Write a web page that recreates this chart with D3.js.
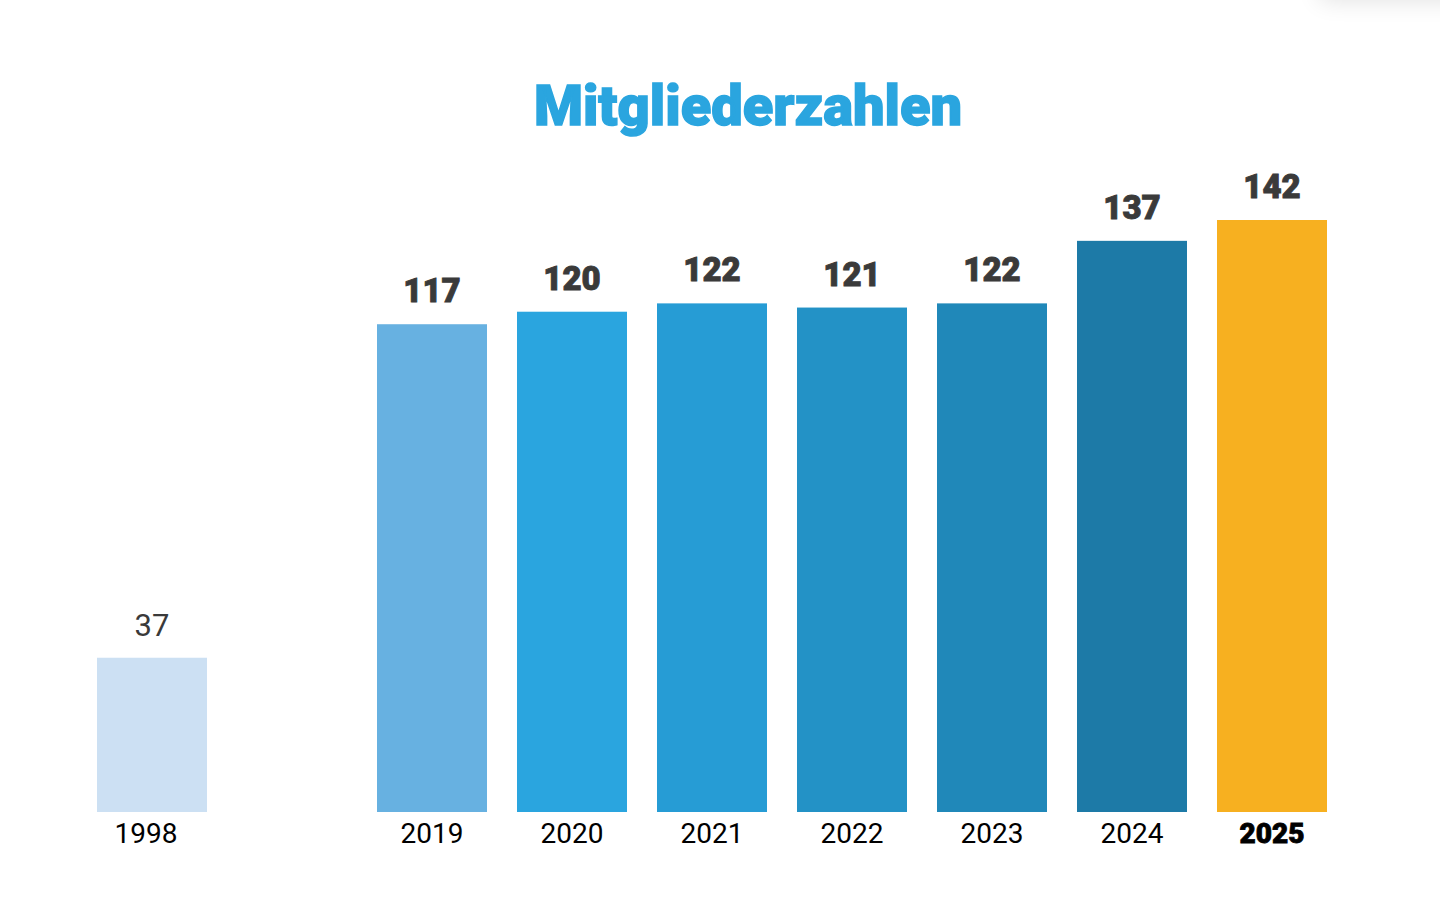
<!DOCTYPE html>
<html lang="de">
<head>
<meta charset="utf-8">
<title>Mitgliederzahlen</title>
<script src="https://d3js.org/d3.v7.min.js"></script>
<style>
  html, body { margin: 0; padding: 0; background: #fff; }
  svg { display: block; }
</style>
</head>
<body>
<script>
// data
const years = ["1998", "2019", "2020", "2021", "2022", "2023", "2024", "2025"];
const members = [37, 117, 120, 122, 121, 122, 137, 142];
const barColors = ["#cce0f3", "#67b1e1", "#2aa5df", "#269cd5", "#2392c6", "#2088b9", "#1d7aa7", "#f7b020"];
// one empty slot between 1998 and 2019
const slots = ["1998", "gap", "2019", "2020", "2021", "2022", "2023", "2024", "2025"];

const width = 1440, height = 917;
const baseline = 812;

const svg = d3.select("body").append("svg")
    .attr("width", width)
    .attr("height", height);

// faint shadow top right
const defs = svg.append("defs");
defs.append("filter").attr("id", "blur")
    .attr("x", "-50%").attr("y", "-200%").attr("width", "200%").attr("height", "500%")
  .append("feGaussianBlur").attr("stdDeviation", 12);
svg.append("rect")
    .attr("x", 1320).attr("y", -40)
    .attr("width", 220).attr("height", 40)
    .attr("fill", "#000").attr("opacity", 0.12)
    .attr("filter", "url(#blur)");

const x = d3.scaleBand()
    .domain(slots)
    .range([82, 1342])
    .paddingInner(30 / 140)
    .paddingOuter(15 / 140);

const y = d3.scaleLinear()
    .domain([0, 142])
    .range([baseline, 220]);

const data = years.map((yr, i) => ({ year: yr, value: members[i], color: barColors[i] }));

// title
svg.append("text")
    .attr("x", 748)
    .attr("y", 125)
    .attr("text-anchor", "middle")
    .style("font-family", "Roboto, sans-serif")
    .style("font-weight", 900)
    .style("font-size", "56px")
    .style("fill", "#2aa5df")
    .style("stroke", "#2aa5df")
    .style("stroke-width", 1.4)
    .text("Mitgliederzahlen");

// bars
svg.selectAll("rect.bar")
    .data(data)
    .enter()
    .append("rect")
    .attr("class", "bar")
    .attr("x", d => x(d.year))
    .attr("y", d => y(d.value))
    .attr("width", x.bandwidth())
    .attr("height", d => baseline - y(d.value))
    .attr("fill", d => d.color);

// value labels
svg.selectAll("text.val")
    .data(data)
    .enter()
    .append("text")
    .attr("class", "val")
    .attr("x", d => x(d.year) + x.bandwidth() / 2)
    .attr("y", d => y(d.value) - 22)
    .attr("text-anchor", "middle")
    .style("font-family", "Roboto, sans-serif")
    .style("font-weight", d => d.year === "1998" ? 400 : 900)
    .style("font-size", d => d.year === "1998" ? "31px" : "33px")
    .style("fill", "#3a3a3a")
    .style("stroke", d => d.year === "1998" ? "none" : "#3a3a3a")
    .style("stroke-width", 0.9)
    .text(d => d.value);

// year labels
const xAxis = d3.axisBottom(x)
    .tickValues(years)
    .tickSize(0)
    .tickPadding(0);

const axisG = svg.append("g")
    .attr("transform", "translate(0," + baseline + ")")
    .call(xAxis);
axisG.select(".domain").remove();
axisG.selectAll("text")
    .attr("dy", null)
    .attr("y", 31)
    .attr("dx", d => d === "1998" ? -6 : 0)
    .style("font-family", "Roboto, sans-serif")
    .style("font-size", "28px")
    .style("font-weight", d => d === "2025" ? 900 : 400)
    .style("stroke", d => d === "2025" ? "#000" : "none")
    .style("stroke-width", 0.8)
    .style("fill", "#000");
</script>
</body>
</html>
